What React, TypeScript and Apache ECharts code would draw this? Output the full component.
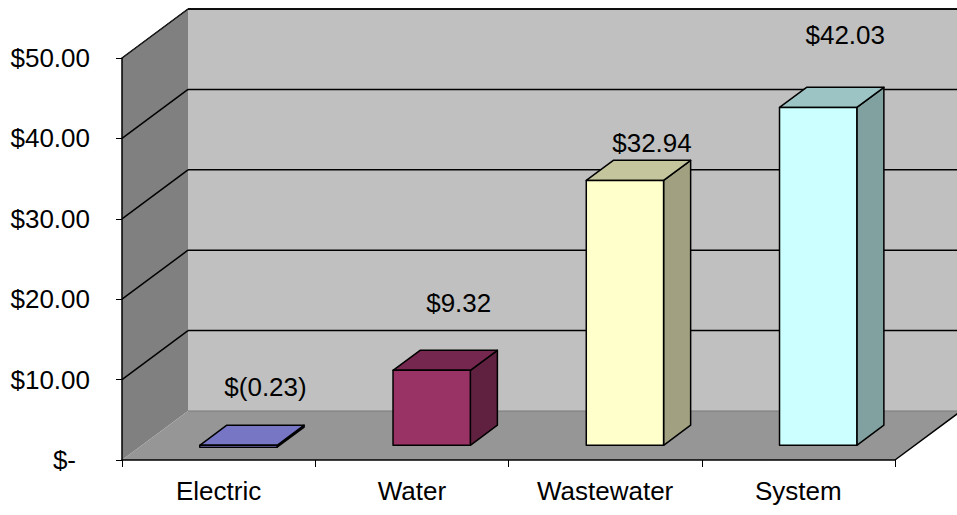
import React, { useEffect, useRef } from "react";
import * as echarts from "echarts";

// ---- data ----
const CATEGORIES = ["Electric", "Water", "Wastewater", "System"];
const VALUES = [-0.23, 9.32, 32.94, 42.03];
const LABEL_TEXTS = ["$(0.23)", "$9.32", "$32.94", "$42.03"];
const Y_TICKS = [10, 20, 30, 40, 50];
const Y_MIN = 0;
const Y_MAX = 50;
const Y_STEP = 10;

// ---- style ----
const FRONT_COLORS = ["#9999FF", "#993366", "#FFFFCC", "#CCFFFF"];
const DEPTH_X = 66;
const DEPTH_Y = -49;
const BAR_FRONT = 0.3; // fraction of depth where bar front face sits
const BAR_DEPTH = 0.41; // bar depth as fraction of wall depth
const BAR_WIDTH = 0.4; // of band
const LABEL_LIFT = [38, 47, 17, 52];
const FONT_SIZE = 26;
const FONT = "'Liberation Sans', Arial, Helvetica, sans-serif";

function shade(hex: string, f: number) {
  const n = parseInt(hex.slice(1), 16);
  const r = Math.round(((n >> 16) & 255) * f);
  const g = Math.round(((n >> 8) & 255) * f);
  const b = Math.round((n & 255) * f);
  return `rgb(${r},${g},${b})`;
}

export default function App() {
  const ref = useRef<HTMLDivElement>(null);
  useEffect(() => {
    if (!ref.current) return;
    const chart = echarts.init(ref.current, undefined, { renderer: "svg" });

    const wallsRender = (params: any, api: any) => {
      const cs = params.coordSys;
      const x0 = cs.x, x1 = cs.x + cs.width;
      const yTop = cs.y, yBot = cs.y + cs.height;
      const dx = DEPTH_X, dy = DEPTH_Y;
      const children: any[] = [];
      children.push({
        type: "polygon",
        shape: { points: [[x0 + dx, yTop + dy], [x1 + dx, yTop + dy], [x1 + dx, yBot + dy], [x0 + dx, yBot + dy]] },
        style: { fill: "#c0c0c0" },
      });
      children.push({
        type: "polygon",
        shape: { points: [[x0, yTop], [x0 + dx, yTop + dy], [x0 + dx, yBot + dy], [x0, yBot]] },
        style: { fill: "#808080" },
      });
      children.push({
        type: "polygon",
        shape: { points: [[x0, yBot], [x0 + dx, yBot + dy], [x1 + dx, yBot + dy], [x1, yBot]] },
        style: { fill: "#969696" },
      });
      children.push({
        type: "line",
        shape: { x1: x0 + dx, y1: yBot + dy, x2: x1 + dx, y2: yBot + dy },
        style: { stroke: "#7a7a7a", lineWidth: 1 },
      });
      Y_TICKS.forEach((v) => {
        const y = api.coord([0, v])[1];
        children.push({
          type: "line",
          shape: { x1: x0 + dx, y1: y + dy, x2: x1 + dx, y2: y + dy },
          style: { stroke: "#000", lineWidth: 1.5 },
        });
        children.push({
          type: "line",
          shape: { x1: x0, y1: y, x2: x0 + dx, y2: y + dy },
          style: { stroke: "#000", lineWidth: 1.5 },
        });
      });
      children.push({
        type: "line",
        shape: { x1: x1, y1: yBot, x2: x1 + dx, y2: yBot + dy },
        style: { stroke: "#000", lineWidth: 1.5 },
      });
      return { type: "group", children };
    };

    const barsRender = (params: any, api: any) => {
      const i = api.value(0);
      const v = api.value(1);
      const zero = api.coord([i, 0]);
      const top = api.coord([i, v]);
      const band = api.size([1, 0])[0];
      const w = band * BAR_WIDTH;
      const ox = DEPTH_X * BAR_FRONT, oy = DEPTH_Y * BAR_FRONT;
      const bx = DEPTH_X * BAR_DEPTH, by = DEPTH_Y * BAR_DEPTH;
      const left = zero[0] - w / 2 + ox;
      const right = left + w;
      const yHi = Math.min(zero[1], top[1]) + oy;
      const yLo = Math.max(zero[1], top[1]) + oy;
      const col = FRONT_COLORS[i];
      const stroke = { stroke: "#000", lineWidth: 1.5, lineJoin: "round" };
      return {
        type: "group",
        children: [
          {
            type: "polygon",
            shape: { points: [[right, yHi], [right + bx, yHi + by], [right + bx, yLo + by], [right, yLo]] },
            style: { fill: shade(col, 0.63), ...stroke },
          },
          {
            type: "polygon",
            shape: { points: [[left, yHi], [left + bx, yHi + by], [right + bx, yHi + by], [right, yHi]] },
            style: { fill: shade(col, 0.77), ...stroke },
          },
          {
            type: "rect",
            shape: { x: left, y: yHi, width: w, height: yLo - yHi },
            style: { fill: col, ...stroke },
          },
          {
            type: "text",
            x: left + w / 2 + bx,
            y: yHi + by - LABEL_LIFT[i],
            style: {
              text: LABEL_TEXTS[i],
              fill: "#000",
              font: `${FONT_SIZE}px ${FONT}`,
              align: "center",
              verticalAlign: "middle",
            },
          },
        ],
      };
    };

    chart.setOption({
      animation: false,
      textStyle: { fontFamily: FONT },
      grid: { left: 122, right: 62, top: 58, bottom: 55, containLabel: false },
      xAxis: {
        type: "category",
        data: CATEGORIES,
        z: 10,
        axisLine: { lineStyle: { color: "#000", width: 1.5 } },
        axisTick: { show: true, length: 7, alignWithLabel: false, lineStyle: { color: "#000" } },
        axisLabel: { color: "#000", fontSize: FONT_SIZE, margin: 18, fontFamily: FONT },
        splitLine: { show: false },
      },
      yAxis: {
        type: "value",
        min: Y_MIN,
        max: Y_MAX,
        interval: Y_STEP,
        z: 10,
        axisLine: { show: true, lineStyle: { color: "#000", width: 1.5 } },
        axisTick: { show: true, length: 6, lineStyle: { color: "#000" } },
        axisLabel: {
          color: "#000",
          fontSize: FONT_SIZE,
          margin: 32,
          fontFamily: FONT,
          formatter: (v: number) => (v === 0 ? "{z|$-}" : "$" + v.toFixed(2)),
          rich: { z: { fontSize: FONT_SIZE, fontFamily: FONT, color: "#000", padding: [0, 14, 0, 0] } },
        },
        splitLine: { show: false },
      },
      series: [
        {
          type: "custom",
          name: "walls",
          z: 1,
          clip: false,
          silent: true,
          renderItem: wallsRender,
          data: [[0, 0]],
        },
        {
          type: "custom",
          name: "bars",
          z: 3,
          clip: false,
          renderItem: barsRender,
          data: CATEGORIES.map((_, i) => [i, VALUES[i]]),
        },
        {
          type: "custom",
          name: "topEdges",
          z: 4,
          clip: false,
          silent: true,
          renderItem: (params: any) => {
            const cs = params.coordSys;
            const x0 = cs.x, x1 = cs.x + cs.width, yTop = cs.y;
            return {
              type: "group",
              children: [
                {
                  type: "line",
                  shape: { x1: x0 + DEPTH_X, y1: yTop + DEPTH_Y, x2: x1 + DEPTH_X, y2: yTop + DEPTH_Y },
                  style: { stroke: "#000", lineWidth: 1.5 },
                },
                {
                  type: "line",
                  shape: { x1: x0, y1: yTop, x2: x0 + DEPTH_X, y2: yTop + DEPTH_Y },
                  style: { stroke: "#222", lineWidth: 1 },
                },
              ],
            };
          },
          data: [[0, 0]],
        },
      ],
    });
    return () => chart.dispose();
  }, []);
  return (
    <div
      ref={ref}
      style={{ position: "absolute", left: 0, top: 0, width: 957, height: 515, background: "#fff" }}
    />
  );
}
